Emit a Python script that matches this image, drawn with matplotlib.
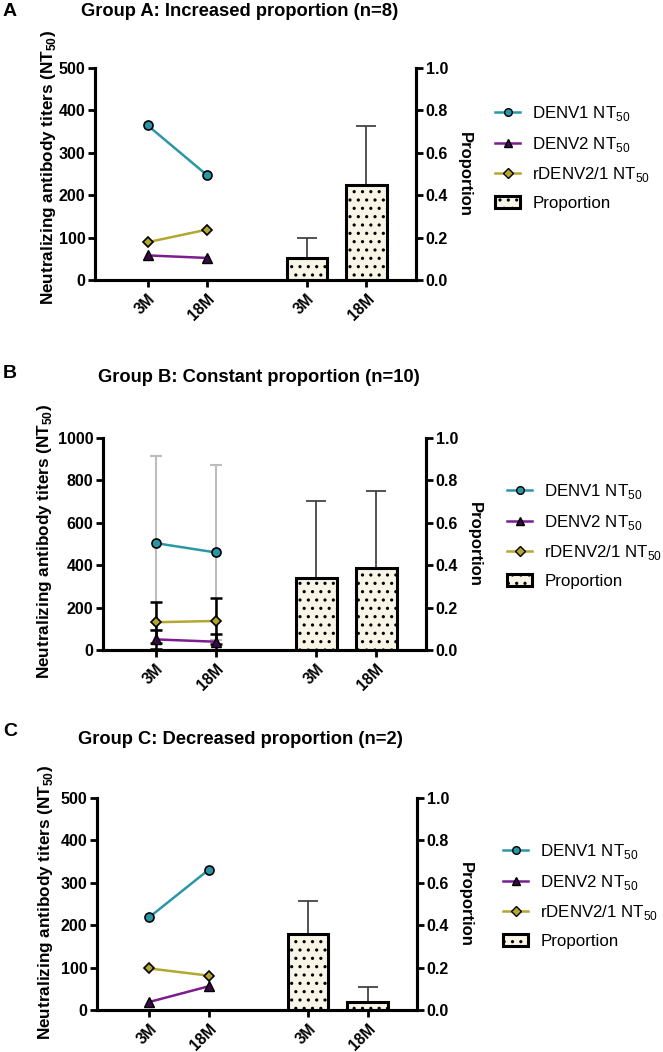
import numpy as np
import matplotlib
matplotlib.use("Agg")
import matplotlib.pyplot as plt
from matplotlib.lines import Line2D
from matplotlib.patches import Patch

plt.rcParams["font.family"] = ["Liberation Sans", "DejaVu Sans"]
plt.rcParams["mathtext.fontset"] = "custom"
plt.rcParams["mathtext.rm"] = "Liberation Sans"
plt.rcParams["mathtext.bf"] = "Liberation Sans:bold"
plt.rcParams["hatch.linewidth"] = 1.1

# data
timepoints = ["3M", "18M"]
tick_labels = ["3M", "18M", "3M", "18M"]

titles = ["Group A: Increased proportion (n=8)",
          "Group B: Constant proportion (n=10)",
          "Group C: Decreased proportion (n=2)"]
panel_letters = ["A", "B", "C"]
left_max = [500, 1000, 500]

denv1_a = [365, 247]
denv2_a = [58, 52]
rdenv_a = [89, 119]
prop_a = [0.102, 0.449]
prop_err_a = [0.095, 0.276]

denv1_b = [504, 460]
denv2_b = [50, 39]
rdenv_b = [131, 137]
denv1_err_b = [412, 411]
denv2_err_b = [44, 37]
rdenv_err_b = [97, 107]
prop_b = [0.339, 0.389]
prop_err_b = [0.366, 0.362]

denv1_c = [219, 331]
denv2_c = [19, 56]
rdenv_c = [98, 81]
prop_c = [0.36, 0.039]
prop_err_c = [0.153, 0.069]

DENV1_C = "#2b97a6"
DENV2_C = "#7b1d8e"
RDENV_C = "#b3a730"
BAR_C = "#f8f5e7"

# axes boxes in pixels: left, right, top, bottom
W, H = 663, 1052
boxes = [(95, 416, 68, 280), (103, 426, 438, 650), (97, 417, 798, 1010)]
letter_y = [11, 373, 731]
title_y = [12, 378, 740]
title_x = [240, 259, 240]
ylabel_right = [58, 54, 55]
ylabel_center = [168, 542, 903]
legend_pos = [(495, 104), (507, 482), (503, 842)]

fig = plt.figure(figsize=(W / 100, H / 100), dpi=100)

line_x = np.array([0, 1])
bar_x = np.array([2.67, 3.67])

panels = [
    (denv1_a, denv2_a, rdenv_a, None, None, None, prop_a, prop_err_a),
    (denv1_b, denv2_b, rdenv_b, denv1_err_b, denv2_err_b, rdenv_err_b, prop_b, prop_err_b),
    (denv1_c, denv2_c, rdenv_c, None, None, None, prop_c, prop_err_c),
]

for i, (d1, d2, rd, e1, e2, er, pr, pe) in enumerate(panels):
    l, r, t, b = boxes[i]
    ax = fig.add_axes([l / W, 1 - b / H, (r - l) / W, (b - t) / H])
    ax2 = ax.twinx()

    if e1 is not None:
        ax.errorbar(line_x, d1, yerr=e1, fmt="none", ecolor="#bdbdbd",
                    elinewidth=1.5, capsize=4, capthick=1.5, zorder=1)
        ax.errorbar(line_x, rd, yerr=er, fmt="none", ecolor="black",
                    elinewidth=1.8, capsize=4, capthick=1.8, zorder=2)
        ax.errorbar(line_x, d2, yerr=e2, fmt="none", ecolor="black",
                    elinewidth=1.8, capsize=4, capthick=1.8, zorder=2)

    ax.plot(line_x, d1, color=DENV1_C, lw=1.8, marker="o", ms=6.5,
            mfc=DENV1_C, mec="black", mew=1.2, zorder=3)
    ax.plot(line_x, d2, color=DENV2_C, lw=1.8, marker="^", ms=7,
            mfc="#3a0a48", mec="black", mew=1.0, zorder=3)
    ax.plot(line_x, rd, color=RDENV_C, lw=1.8, marker="D", ms=5.5,
            mfc=RDENV_C, mec="black", mew=1.2, zorder=3)

    ax2.bar(bar_x, pr, width=0.68, color=BAR_C, edgecolor="black",
            linewidth=2.2, hatch="..", zorder=2)
    ax2.errorbar(bar_x, pr, yerr=[np.zeros(2), pe], fmt="none",
                 ecolor="#444444", elinewidth=1.3, capsize=7.5, capthick=1.3,
                 zorder=1)

    ax.set_xlim(-0.88, 4.5)
    ax.set_ylim(0, left_max[i])
    ax.set_yticks(np.linspace(0, left_max[i], 6))
    ax2.set_ylim(0, 1.0)
    ax2.set_yticks(np.linspace(0, 1, 6))
    ax2.set_yticklabels([f"{v:.1f}" for v in np.linspace(0, 1, 6)])

    ax.set_xticks(np.concatenate([line_x, bar_x]))
    ax.set_xticklabels(tick_labels, rotation=45, ha="right",
                       rotation_mode="anchor", fontweight="bold", fontsize=11.2)

    for a in (ax, ax2):
        a.spines["top"].set_visible(False)
        for s in ("left", "right", "bottom"):
            a.spines[s].set_linewidth(2.2)
        a.tick_params(width=2, length=5, labelsize=11.5, pad=2)
        for lab in a.get_yticklabels():
            lab.set_fontweight("bold")
    ax.tick_params(axis="x", pad=3, labelsize=11.2)

    ax.set_ylabel(r"Neutralizing antibody titers (NT$_{\mathbf{50}}$)",
                  fontweight="bold", fontsize=12.3)
    ax.yaxis.set_label_coords((ylabel_right[i] - l) / (r - l),
                              (b - ylabel_center[i]) / (b - t))
    ax2.set_ylabel("Proportion", fontweight="bold", fontsize=12,
                   rotation=270, labelpad=17)

    fig.text(3 / W, 1 - letter_y[i] / H, panel_letters[i], fontsize=14,
             fontweight="bold", va="center", ha="left")
    fig.text(title_x[i] / W, 1 - title_y[i] / H, titles[i], fontsize=13.2,
             fontweight="bold", va="center", ha="center")

    handles = [
        Line2D([0], [0], color=DENV1_C, lw=1.8, marker="o", ms=5.5,
               mfc=DENV1_C, mec="black"),
        Line2D([0], [0], color=DENV2_C, lw=1.8, marker="^", ms=6,
               mfc="#3a0a48", mec="black"),
        Line2D([0], [0], color=RDENV_C, lw=1.8, marker="D", ms=5,
               mfc=RDENV_C, mec="black"),
        Patch(facecolor=BAR_C, edgecolor="black", linewidth=2.2, hatch=".."),
    ]
    labels = [r"DENV1 NT$_{50}$", r"DENV2 NT$_{50}$",
              r"rDENV2/1 NT$_{50}$", "Proportion"]
    lx, ly = legend_pos[i]
    fig.legend(handles, labels, loc="upper left",
               bbox_to_anchor=(lx / W, 1 - ly / H), frameon=False,
               fontsize=12.2, handlelength=1.5, handletextpad=0.7,
               labelspacing=0.68, borderaxespad=0, borderpad=0)

fig.savefig("out.png", dpi=100)
